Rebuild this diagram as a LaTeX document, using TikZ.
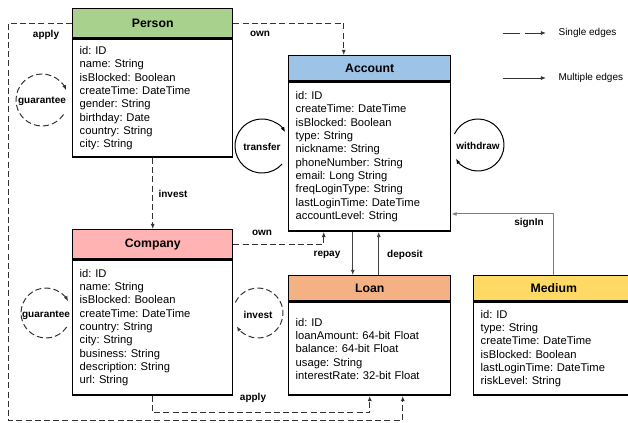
\documentclass[tikz,border=0pt]{standalone}
\usepackage{fontspec}
\setmainfont{Liberation Sans}
\usetikzlibrary{arrows.meta,calc}
\definecolor{personc}{HTML}{A9D18E}
\definecolor{accountc}{HTML}{9DC3E6}
\definecolor{companyc}{HTML}{FFB3B3}
\definecolor{loanc}{HTML}{F4B183}
\definecolor{mediumc}{HTML}{FFD966}
\definecolor{edgec}{HTML}{333333}
\definecolor{solidc}{HTML}{404040}
\definecolor{signc}{HTML}{7F7F7F}
\frenchspacing
\begin{document}
\frenchspacing
\begin{tikzpicture}[x=0.75pt,y=-0.75pt,
  ttl/.style={draw=black, line width=1.1pt, inner sep=0pt, anchor=north west,
    font=\fontsize{9.2}{11}\selectfont\bfseries},
  bdy/.style={draw=black, line width=1.1pt, fill=white, anchor=north west, align=left,
    inner xsep=5.25pt, inner ysep=0pt, font=\fontsize{8.4}{10}\selectfont\frenchspacing},
  lbl/.style={font=\fontsize{7.5}{9}\selectfont\bfseries, inner sep=1pt},
  leg/.style={font=\fontsize{7.5}{9}\selectfont, inner sep=1pt, anchor=west},
  tip/.style={-{Latex[length=3.8pt,width=3pt]}},
  dsh/.style={dash pattern=on 4.5pt off 2.4pt, line width=0.75pt, draw=edgec},
  sld/.style={line width=0.75pt, draw=solidc},
]
\useasboundingbox (0,0) rectangle (628,422);

% ---------- entities ----------
\node[ttl, fill=personc, minimum width=120pt, minimum height=21.75pt] (person) at (72,8) {Person};
\node[bdy, minimum width=120pt, text width=109.5pt, minimum height=88.5pt] (personb) at (person.south west)
 {id: ID\\name: String\\isBlocked: Boolean\\createTime: DateTime\\gender: String\\birthday: Date\\country: String\\city: String};

\node[ttl, fill=accountc, minimum width=121.5pt, minimum height=18.75pt] (account) at (288,55) {Account};
\node[bdy, minimum width=121.5pt, text width=111pt, minimum height=111.75pt] (accountb) at (account.south west)
 {id: ID\\createTime: DateTime\\isBlocked: Boolean\\type: String\\nickname: String\\phoneNumber: String\\email: Long String\\freqLoginType: String\\lastLoginTime: DateTime\\accountLevel: String};

\node[ttl, fill=companyc, minimum width=120pt, minimum height=21.75pt] (company) at (72,229) {Company};
\node[bdy, minimum width=120pt, text width=109.5pt, minimum height=101.25pt] (companyb) at (company.south west)
 {id: ID\\name: String\\isBlocked: Boolean\\createTime: DateTime\\country: String\\city: String\\business: String\\description: String\\url: String};

\node[ttl, fill=loanc, minimum width=121.5pt, minimum height=18.75pt] (loan) at (288,275) {Loan};
\node[bdy, minimum width=121.5pt, text width=111pt, minimum height=69.75pt] (loanb) at (loan.south west)
 {id: ID\\loanAmount: 64-bit Float\\balance: 64-bit Float\\usage: String\\interestRate: 32-bit Float};

\node[ttl, fill=mediumc, minimum width=120pt, minimum height=18.75pt] (medium) at (473,275) {Medium};
\node[bdy, minimum width=120pt, text width=109.5pt, minimum height=69.75pt] (mediumb) at (medium.south west)
 {id: ID\\type: String\\createTime: DateTime\\isBlocked: Boolean\\lastLoginTime: DateTime\\riskLevel: String};

% ---------- connectors ----------
% Person own -> Account
\draw[dsh, tip] (person.east) -| ($(account.north)+(-26,0)$);
% Person apply -> Loan (outer loop)
\draw[dsh, tip] (person.west) -| (8,420) -| ($(loanb.south)+(33,0)$);
% Person invest -> Company
\draw[dsh, tip] (personb.south) -- (company.north);
% Company own -> Account
\draw[dsh, tip] (company.east) -| ($(accountb.south)+(-46,0)$);
% Company apply -> Loan
\draw[dsh, tip] (companyb.south) -- ++(0,17) -| (loanb.south);
% repay / deposit
\draw[sld, tip] ($(accountb.south)+(-17,0)$) -- ($(loan.north)+(-17,0)$);
\draw[sld, tip] ($(loan.north)+(9,0)$) -- ($(accountb.south)+(9,0)$);
% signIn
\draw[line width=0.75pt, draw=signc, tip] (medium.north) |- ($(accountb.south east)+(0,-18)$);

% self loops
\draw[dsh, tip] (42,100) ++(34:26) arc[start angle=34, end angle=338, radius=26];
\draw[line width=0.75pt, tip] (262,146) ++(42:27) arc[start angle=42, end angle=329, radius=27];
\draw[line width=0.75pt, tip] (478,145) ++(205:26) arc[start angle=205, end angle=508, radius=26];
\draw[dsh, tip] (46,313) ++(34:25) arc[start angle=34, end angle=332, radius=25];
\draw[dsh, tip] (258,313) ++(205:25) arc[start angle=205, end angle=508, radius=25];

% ---------- labels ----------
\node[lbl] (l1) at (46,35) {apply};
\node[lbl] (l2) at (260,34) {own};
\node[lbl] (l3) at (42,101) {guarantee};
\node[lbl] (l4) at (262,147) {transfer};
\node[lbl] (l5) at (478,146) {withdraw};
\node[lbl] (l6) at (173,194) {invest};
\node[lbl] (l7) at (262,233) {own};
\node[lbl] (l8) at (327,255) {repay};
\node[lbl] (l9) at (405,255) {deposit};
\node[lbl] (l10) at (529,223) {signIn};
\node[lbl] (l11) at (46,315) {guarantee};
\node[lbl] (l12) at (258,315) {invest};
\node[lbl] (l13) at (253,398) {apply};

% ---------- legend ----------
\node[leg] (single) at (557,33) {Single edges};
\node[leg] (multi) at (557,78) {Multiple edges};
\coordinate (s0) at (503,33);
\coordinate (m0) at (503,78);
\draw[line width=0.75pt, draw=edgec, dash pattern=on 12.5pt off 4.3pt on 20pt off 1pt, tip] (s0) -- ($(single.west)+(-11,0)$);
\draw[line width=0.75pt, draw=edgec, tip] (m0) -- ($(multi.west)+(-11,0)$);
\end{tikzpicture}
\end{document}
